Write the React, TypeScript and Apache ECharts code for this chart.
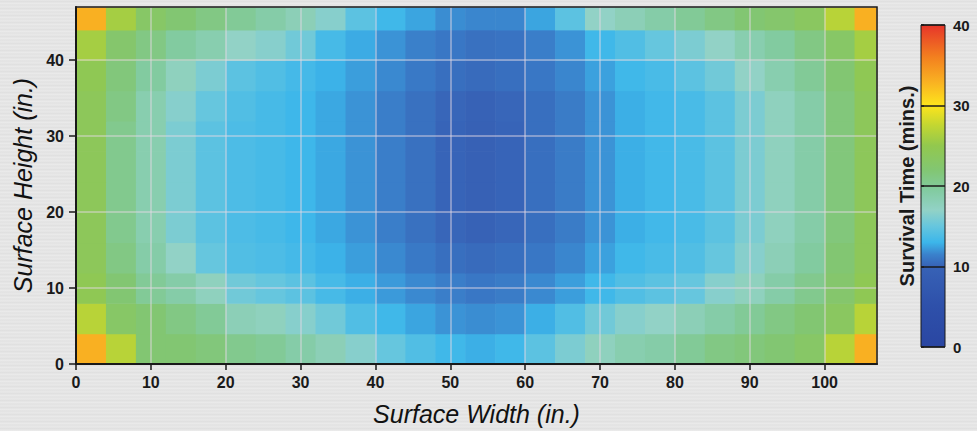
import React, { useEffect, useRef } from "react";
import * as echarts from "echarts";

// Cell edges of the sampled surface (inches)
const xEdges = [0, 4, 8, 12, 16, 20, 24, 28, 32, 36, 40, 44, 48, 52, 56, 60, 64, 68, 72, 76, 80, 84, 88, 92, 96, 100, 104, 107];
const yEdges = [0, 4, 8, 12, 16, 20, 24, 28, 32, 36, 40, 44, 47];

// Survival time (mins.) per cell, one array per height band (bottom to top)
const rowH00 = [33, 27, 22, 22, 21.5, 20.5, 20, 19, 18, 16.5, 15, 14, 13.2, 12.8, 13.2, 14.5, 16, 17.5, 18.5, 19, 20, 21, 21.5, 22, 23, 27, 33];
const rowH04 = [27, 23, 22, 21, 20, 18, 17.5, 16.5, 15.5, 14, 13.2, 12.5, 12, 11.8, 12, 12.8, 14, 15.5, 16.5, 17, 18, 19, 20, 21, 22, 23.5, 27];
const rowH08 = [24.5, 22, 20, 19, 17.5, 15.5, 15, 14.5, 13.5, 12.8, 12.2, 11.7, 11.3, 11, 11.2, 11.7, 12.3, 13.2, 14, 14.5, 15, 16.5, 17.5, 19, 20.5, 22.5, 24.5];
const rowH12 = [24, 21, 19, 17, 15, 14, 13.8, 13.4, 12.9, 12.3, 11.7, 11.1, 10.6, 10.4, 10.6, 11, 11.6, 12.4, 13.2, 13.6, 14, 15, 16.5, 18, 19.5, 22, 24];
const rowH16 = [24, 20.5, 18.5, 16, 14.5, 13.8, 13.5, 13.1, 12.6, 12, 11.3, 10.7, 10.2, 10, 10.2, 10.6, 11.2, 12, 12.8, 13.3, 13.6, 14.5, 16, 17.5, 19, 21.5, 24];
const rowH20 = [24, 20.5, 18.5, 16, 14.5, 13.8, 13.5, 13.1, 12.6, 12, 11.3, 10.7, 10.1, 9.8, 10.1, 10.6, 11.2, 12, 12.8, 13.3, 13.6, 14.5, 16, 17.5, 19, 21.5, 24];
const rowH24 = [24, 20.5, 18.5, 16, 14.5, 13.8, 13.5, 13.1, 12.6, 12, 11.3, 10.7, 10.1, 9.8, 10.1, 10.6, 11.2, 12, 12.8, 13.3, 13.6, 14.5, 16, 17.5, 19, 21.5, 24];
const rowH28 = [24, 20.5, 18.5, 16, 14.5, 13.8, 13.5, 13.1, 12.6, 12, 11.3, 10.7, 10.1, 9.8, 10.1, 10.6, 11.2, 12, 12.8, 13.3, 13.6, 14.5, 16, 17.5, 19, 21.5, 24];
const rowH32 = [24, 21, 18.5, 16.5, 15, 14, 13.5, 13.1, 12.6, 12, 11.3, 10.7, 10.2, 10, 10.2, 10.6, 11.2, 12, 12.8, 13.3, 13.6, 14.5, 16, 17.5, 19, 21.5, 24];
const rowH36 = [24.5, 21.5, 19.5, 17.5, 16, 14.5, 14, 13.4, 12.9, 12.3, 11.7, 11.1, 10.6, 10.4, 10.6, 11, 11.6, 12.4, 13.2, 13.6, 14.5, 15.5, 17, 18.5, 20, 22, 24.5];
const rowH40 = [26, 22.5, 21, 19.5, 18.5, 17, 16.5, 15.5, 13.5, 12.7, 12, 11.4, 11, 10.7, 10.8, 11.3, 12, 13.2, 14, 15, 16, 17, 18.5, 19.5, 21, 23, 26];
const rowH44 = [33, 26, 23, 22, 21, 20, 19, 18, 16.5, 14.5, 13.2, 12.5, 11.8, 11.6, 11.6, 12.5, 14.5, 17, 18, 19, 20, 21, 22, 22.5, 23.5, 27, 33];

const survivalRows = [rowH00, rowH04, rowH08, rowH12, rowH16, rowH20, rowH24, rowH28, rowH32, rowH36, rowH40, rowH44];

// Colour scale range (mins.)
const scaleRange = [0, 40];

// Colour ramp (value -> colour), as seen on the colour bar
const colorStops: [number, string][] = [
  [0, "#2a46a2"],
  [5, "#2e50aa"],
  [10, "#3762b6"],
  [11.5, "#3a82cc"],
  [13, "#3cb6ea"],
  [15, "#66c6de"],
  [17, "#92d2c6"],
  [19.5, "#82cba0"],
  [22, "#82c672"],
  [25, "#92c84e"],
  [27.5, "#c2d632"],
  [30, "#fde41c"],
  [33, "#f9b022"],
  [36, "#f3801f"],
  [40, "#e6352a"],
];

const FONT = "'Liberation Sans', Arial, Helvetica, sans-serif";

function hexToRgb(h: string) {
  const n = parseInt(h.slice(1), 16);
  return [(n >> 16) & 255, (n >> 8) & 255, n & 255];
}

function rampAt(v: number) {
  for (let i = 0; i < colorStops.length - 1; i++) {
    const [v0, c0] = colorStops[i];
    const [v1, c1] = colorStops[i + 1];
    if (v >= v0 && v <= v1) {
      const t = (v - v0) / (v1 - v0);
      const a = hexToRgb(c0);
      const b = hexToRgb(c1);
      const m = a.map((x, k) => Math.round(x + (b[k] - x) * t));
      return `rgb(${m[0]},${m[1]},${m[2]})`;
    }
  }
  return colorStops[colorStops.length - 1][1];
}

function buildPalette(steps: number) {
  const out: string[] = [];
  for (let i = 0; i <= steps; i++) {
    out.push(rampAt(scaleRange[0] + ((scaleRange[1] - scaleRange[0]) * i) / steps));
  }
  return out;
}

export default function App() {
  const ref = useRef<HTMLDivElement>(null);

  useEffect(() => {
    if (!ref.current) return;
    const chart = echarts.init(ref.current, undefined, { renderer: "svg" });

    const cells: number[][] = [];
    survivalRows.forEach((row, j) => {
      row.forEach((v, i) => {
        cells.push([xEdges[i], xEdges[i + 1], yEdges[j], yEdges[j + 1], v]);
      });
    });

    const span = scaleRange[1] - scaleRange[0];
    const gradientStops = colorStops.map(([v, c]) => ({ offset: (v - scaleRange[0]) / span, color: c }));

    const tickLabel = { fontFamily: FONT, fontWeight: "bold" as const, fontSize: 16, color: "#1a1a1a" };
    const gridLine = { show: true, lineStyle: { color: "rgba(228,216,228,0.6)", width: 1.5 } };

    chart.setOption({
      animation: false,
      backgroundColor: "transparent",
      textStyle: { fontFamily: FONT },
      grid: [
        { left: 76, top: 7, width: 801, height: 357, show: true, borderColor: "#1a1a1a", borderWidth: 1.5, backgroundColor: "transparent", z: 4 },
        { left: 921, top: 25, width: 24, height: 322 },
      ],
      visualMap: {
        type: "continuous",
        show: false,
        min: scaleRange[0],
        max: scaleRange[1],
        dimension: 4,
        seriesIndex: 0,
        inRange: { color: buildPalette(160) },
      },
      xAxis: [
        {
          type: "value",
          gridIndex: 0,
          min: 0,
          max: xEdges[xEdges.length - 1],
          interval: 10,
          z: 3,
          axisLine: { onZero: false, lineStyle: { color: "#1a1a1a", width: 2 } },
          axisTick: { length: 6, lineStyle: { color: "#1a1a1a", width: 1.5 } },
          axisLabel: { ...tickLabel, margin: 10, showMaxLabel: false },
          splitLine: gridLine,
          name: "Surface Width (in.)",
          nameLocation: "middle",
          nameGap: 37,
          nameTextStyle: { fontFamily: FONT, fontStyle: "italic", fontSize: 25, color: "#111" },
        },
        { type: "value", gridIndex: 1, min: 0, max: 1, show: false },
      ],
      yAxis: [
        {
          type: "value",
          gridIndex: 0,
          min: 0,
          max: yEdges[yEdges.length - 1],
          interval: 10,
          z: 3,
          axisLine: { onZero: false, lineStyle: { color: "#1a1a1a", width: 2 } },
          axisTick: { length: 7, lineStyle: { color: "#1a1a1a", width: 1.5 } },
          axisLabel: { ...tickLabel, margin: 12, showMaxLabel: false },
          splitLine: gridLine,
          name: "Surface Height (in.)",
          nameLocation: "middle",
          nameGap: 40,
          nameTextStyle: { fontFamily: FONT, fontStyle: "italic", fontSize: 25, color: "#111" },
        },
        {
          type: "value",
          gridIndex: 1,
          min: scaleRange[0],
          max: scaleRange[1],
          interval: 10,
          position: "right",
          z: 5,
          axisLine: { show: false },
          axisTick: { show: true, length: 3, lineStyle: { color: "#1a1a1a", width: 1.5 } },
          axisLabel: { fontFamily: FONT, fontWeight: "bold", fontSize: 15, color: "#1a1a1a", margin: 8 },
          splitLine: { show: true, lineStyle: { color: "#1a1a1a", width: 1.5 } },
        },
        {
          type: "value",
          gridIndex: 1,
          min: scaleRange[0],
          max: scaleRange[1],
          position: "left",
          axisLine: { show: false },
          axisTick: { show: false },
          axisLabel: { show: false },
          splitLine: { show: false },
          name: "Survival Time (mins.)",
          nameLocation: "middle",
          nameGap: 4,
          nameTextStyle: { fontFamily: FONT, fontWeight: "bold", fontSize: 20, color: "#1a1a1a" },
        },
      ],
      series: [
        {
          type: "custom",
          xAxisIndex: 0,
          yAxisIndex: 0,
          z: 1,
          encode: { x: [0, 1], y: [2, 3] },
          data: cells,
          renderItem: (params: any, api: any) => {
            const a = api.coord([api.value(0), api.value(3)]);
            const b = api.coord([api.value(1), api.value(2)]);
            return {
              type: "rect",
              shape: { x: a[0], y: a[1], width: b[0] - a[0] + 0.6, height: b[1] - a[1] + 0.6 },
              style: { fill: api.visual("color") },
            };
          },
        },
        {
          type: "custom",
          xAxisIndex: 1,
          yAxisIndex: 1,
          z: 1,
          encode: { x: [0, 1], y: [2, 3] },
          data: [[0, 1, scaleRange[0], scaleRange[1]]],
          renderItem: (params: any, api: any) => {
            const a = api.coord([api.value(0), api.value(3)]);
            const b = api.coord([api.value(1), api.value(2)]);
            return {
              type: "rect",
              shape: { x: a[0], y: a[1], width: b[0] - a[0], height: b[1] - a[1] },
              style: {
                fill: new echarts.graphic.LinearGradient(0, 1, 0, 0, gradientStops),
                stroke: "#1a1a1a",
                lineWidth: 1,
              },
            };
          },
        },
      ],
    });

    return () => chart.dispose();
  }, []);

  return (
    <div
      style={{
        position: "fixed",
        left: 0,
        top: 0,
        width: 977,
        height: 431,
        background:
          "repeating-linear-gradient(180deg, #e8e8e8 0px, #dedede 2px, #ececec 3px, #e2e2e2 5px, #e9e9e9 7px)",
      }}
    >
      <div ref={ref} style={{ width: 977, height: 431 }} />
    </div>
  );
}
